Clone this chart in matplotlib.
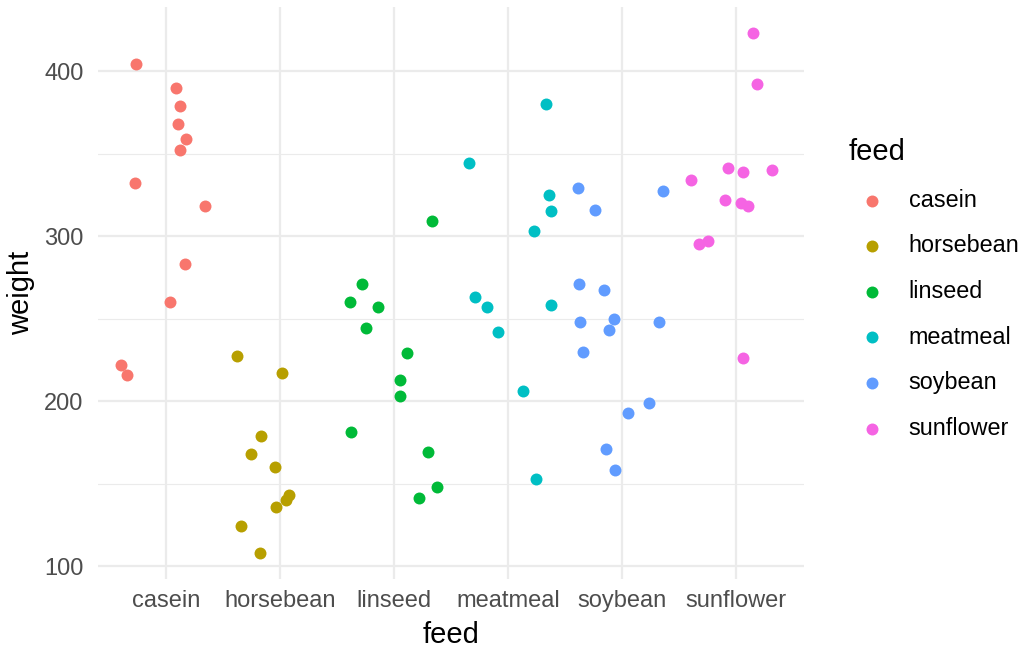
import numpy as np
import matplotlib
matplotlib.use("Agg")
import matplotlib.pyplot as plt

plt.rcParams['font.family'] = ['Liberation Sans', 'DejaVu Sans']

feeds = ["casein", "horsebean", "linseed", "meatmeal", "soybean", "sunflower"]
colors = ["#F8766D", "#B79F00", "#00BA38", "#00BFC4", "#619CFF", "#F564E3"]

# chick weights per feed, with the horizontal jitter used for each point
casein_w = [404, 390, 379, 368, 359, 352, 332, 318, 283, 260, 222, 216]
casein_j = [-0.26, 0.09, 0.12, 0.105, 0.175, 0.12, -0.27, 0.34, 0.17, 0.035, -0.395, -0.34]
horsebean_w = [227, 217, 179, 168, 160, 143, 140, 136, 124, 108]
horsebean_j = [-0.38, 0.02, -0.17, -0.25, -0.045, 0.08, 0.05, -0.035, -0.34, -0.175]
linseed_w = [309, 271, 260, 257, 244, 229, 213, 203, 181, 169, 148, 141]
linseed_j = [0.33, -0.28, -0.385, -0.14, -0.245, 0.115, 0.05, 0.05, -0.375, 0.3, 0.38, 0.22]
meatmeal_w = [380, 344, 325, 315, 303, 263, 258, 257, 242, 206, 153]
meatmeal_j = [0.33, -0.34, 0.36, 0.38, 0.23, -0.29, 0.38, -0.185, -0.09, 0.13, 0.245]
soybean_w = [329, 327, 316, 271, 267, 250, 248, 248, 243, 230, 199, 193, 171, 158]
soybean_j = [-0.385, 0.36, -0.235, -0.375, -0.16, -0.07, -0.37, 0.325, -0.115, -0.34, 0.235, 0.05, -0.14, -0.06]
sunflower_w = [423, 392, 341, 340, 339, 334, 322, 320, 318, 297, 295, 226]
sunflower_j = [0.15, 0.185, -0.07, 0.315, 0.06, -0.395, -0.095, 0.045, 0.105, -0.245, -0.325, 0.06]

weights = [casein_w, horsebean_w, linseed_w, meatmeal_w, soybean_w, sunflower_w]
jitters = [casein_j, horsebean_j, linseed_j, meatmeal_j, soybean_j, sunflower_j]

fig = plt.figure(figsize=(10.24, 6.47), dpi=100)
ax = fig.add_axes([0.0953, 0.1054, 0.6902, 0.8836])

for i, (name, col) in enumerate(zip(feeds, colors)):
    x = np.full(len(weights[i]), i + 1.0) + np.array(jitters[i])
    ax.scatter(x, weights[i], s=74, color=col, linewidths=0, label=name, zorder=3)

ax.set_xlim(0.4, 6.6)
ax.set_ylim(92.25, 438.75)
ax.set_xticks(range(1, 7))
ax.set_xticklabels(feeds)
ax.set_yticks([100, 200, 300, 400])
ax.set_yticks([150, 250, 350], minor=True)

ax.grid(True, which="major", color="#EBEBEB", linewidth=1.6, zorder=0)
ax.grid(True, which="minor", axis="y", color="#EBEBEB", linewidth=0.8, zorder=0)
ax.set_axisbelow(True)
for s in ax.spines.values():
    s.set_visible(False)
ax.tick_params(which="both", length=0, labelsize=17, colors="#4D4D4D")
ax.tick_params(axis="x", pad=8)
ax.tick_params(axis="y", pad=10)

ax.set_xlabel("feed", fontsize=21, labelpad=6.5)
ax.set_ylabel("weight", fontsize=21, labelpad=7)

leg = ax.legend(title="feed", loc="upper left", bbox_to_anchor=(1.062, 0.771),
                frameon=False, fontsize=16.8, title_fontsize=21,
                labelspacing=0.97, handletextpad=0.6, handlelength=2.0,
                borderpad=0, alignment="left", borderaxespad=0)

fig.savefig("out.png", dpi=100, facecolor="white")
